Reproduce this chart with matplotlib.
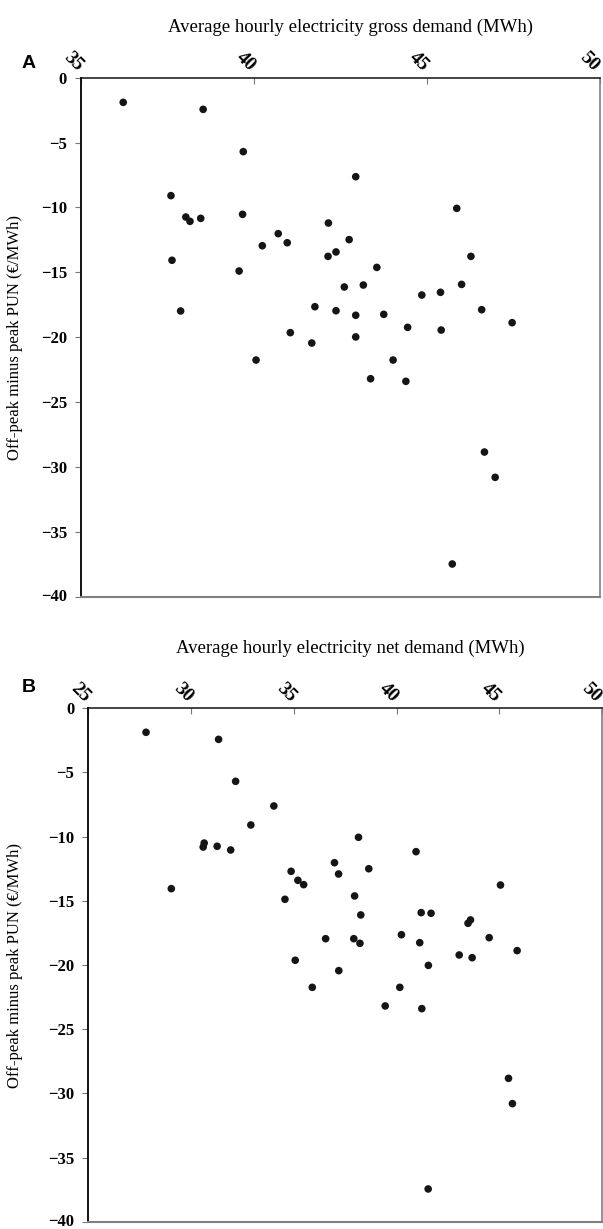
import matplotlib
matplotlib.use('Agg')
import matplotlib.pyplot as plt
from matplotlib.transforms import ScaledTranslation

# panel A: gross demand vs PUN difference
gross_demand = [36.22, 38.53, 39.69, 42.94, 37.60, 39.67, 38.03, 38.15, 38.46, 42.15,
                40.70, 40.96, 40.24, 42.75, 42.37, 42.14, 37.63, 39.57, 42.61, 37.88,
                41.76, 42.37, 42.94, 41.05, 42.94, 41.67, 40.06, 45.86, 46.27, 43.55,
                43.16, 46.00, 44.85, 45.39, 43.75, 46.58, 47.46, 44.44, 45.41, 44.02,
                43.37, 44.39, 46.66, 46.97, 45.73]
pun_diff_a = [-1.90, -2.44, -5.70, -7.63, -9.09, -10.53, -10.74, -11.07, -10.84, -11.20,
              -12.02, -12.72, -12.95, -12.48, -13.43, -13.77, -14.07, -14.90, -16.13, -17.98,
              -17.65, -17.96, -18.31, -19.65, -19.98, -20.45, -21.76, -10.07, -13.77, -14.62,
              -15.98, -15.93, -16.75, -16.54, -18.24, -17.88, -18.88, -19.24, -19.45, -21.76,
              -23.20, -23.40, -28.85, -30.80, -37.48]

# panel B: net demand vs PUN difference
net_demand = [27.81, 31.34, 32.17, 34.03, 32.91, 38.15, 30.64, 30.59, 31.27, 31.93,
              29.04, 36.98, 37.18, 34.87, 35.20, 35.48, 34.57, 37.96, 38.26, 36.55,
              37.92, 38.22, 35.07, 35.90, 37.19, 40.95, 38.65, 45.06, 41.20, 41.68,
              43.48, 43.60, 40.24, 41.13, 44.51, 45.87, 43.05, 43.68, 41.55, 40.16,
              39.45, 41.23, 45.45, 45.64, 41.54]
pun_diff_b = [-1.87, -2.42, -5.69, -7.61, -9.09, -10.05, -10.50, -10.81, -10.75, -11.04,
              -14.05, -12.03, -12.91, -12.70, -13.40, -13.74, -14.88, -14.62, -16.10, -17.95,
              -17.95, -18.31, -19.63, -21.74, -20.44, -11.17, -12.50, -13.77, -15.92, -15.97,
              -16.75, -16.49, -17.64, -18.26, -17.87, -18.88, -19.22, -19.43, -20.03, -21.74,
              -23.19, -23.40, -28.83, -30.80, -37.45]

yticks = [0, -5, -10, -15, -20, -25, -30, -35, -40]
ylabel = 'Off-peak minus peak PUN (€/MWh)'

plt.rcParams['font.family'] = ['Liberation Serif', 'DejaVu Serif']

fig = plt.figure(figsize=(6.03, 12.29), dpi=100)
W, H = 603, 1229


def px_shift(dx, dy):
    return ScaledTranslation(dx / 100, dy / 100, fig.dpi_scale_trans)


def make_panel(box, x, y, xlim, xticks, xlabel, title_pos, letter, letter_pos, ylab_x):
    left, top, right, bottom = box
    ax = fig.add_axes([left / W, 1 - bottom / H, (right - left) / W, (bottom - top) / H])
    ax.scatter(x, y, s=30, color='#151515', edgecolors='none', zorder=3)
    ax.set_xlim(*xlim)
    ax.set_ylim(-40, 0)

    ax.xaxis.tick_top()
    ax.set_xticks(xticks)
    ax.set_xticklabels([str(t) for t in xticks], rotation=-45, ha='center', va='bottom',
                       fontsize=14, fontweight='bold')
    ax.tick_params(axis='x', direction='in', length=4, width=0.8, color='#777777', pad=2)
    xlabs = ax.get_xticklabels()
    for lab in xlabs:
        lab.set_transform(lab.get_transform() + px_shift(-8, 0))
    # keep the last label inside the figure
    xlabs[-1].set_transform(xlabs[-1].get_transform() + px_shift(-3, 0))

    ax.set_yticks(yticks)
    ax.set_yticklabels([f'{t}'.replace('-', '\u2212') for t in yticks],
                       fontsize=12, fontweight='bold')
    ax.tick_params(axis='y', direction='out', length=4, width=0.8, color='#777777', pad=6)
    ylabs = ax.get_yticklabels()
    ylabs[-1].set_transform(ylabs[-1].get_transform() + px_shift(0, 2))

    ax.set_ylabel(ylabel, fontsize=12)
    ax.yaxis.set_label_coords(ylab_x, 0.5)

    ax.spines['left'].set_color('#111111')
    ax.spines['left'].set_linewidth(1.4)
    ax.spines['top'].set_color('#111111')
    ax.spines['top'].set_linewidth(1.1)
    ax.spines['right'].set_color('#808080')
    ax.spines['right'].set_linewidth(1.2)
    ax.spines['bottom'].set_color('#808080')
    ax.spines['bottom'].set_linewidth(1.5)

    fig.text(title_pos[0] / W, 1 - title_pos[1] / H, xlabel, fontsize=13.5,
             ha='center', va='center')
    fig.text(letter_pos[0] / W, 1 - letter_pos[1] / H, letter, family='Liberation Sans',
             fontsize=14, fontweight='bold', ha='center', va='center')
    return ax


make_panel((81, 77.7, 600, 596.7), gross_demand, pun_diff_a, (35, 50), [35, 40, 45, 50],
           'Average hourly electricity gross demand (MWh)', (351, 27), 'A', (29, 64), -0.112)
make_panel((88.3, 708.3, 602, 1221.7), net_demand, pun_diff_b, (25, 50),
           [25, 30, 35, 40, 45, 50],
           'Average hourly electricity net demand (MWh)', (350, 648), 'B', (29, 688), -0.127)

fig.savefig('out.png', dpi=100)
